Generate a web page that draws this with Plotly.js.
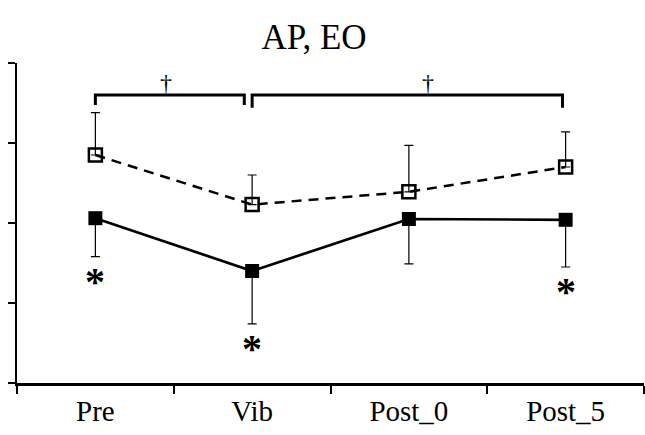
<!DOCTYPE html>
<html>
<head>
<meta charset="utf-8">
<script src="https://cdn.plot.ly/plotly-3.0.1.min.js"></script>
<style>
html,body{margin:0;padding:0;background:#fff;}
#chart{width:645px;height:435px;}
#chart text{font-family:'Liberation Serif','Times New Roman',serif !important;}
</style>
</head>
<body>
<div id="chart"></div>
<script>
// ---- data ----
var categories = ['Pre', 'Vib', 'Post_0', 'Post_5'];
var solidValues = [2.06, 1.40, 2.05, 2.04];      // filled squares, solid line
var solidErrMinus = [0.48, 0.66, 0.56, 0.59];     // one-sided (downward) SD
var dashedValues = [2.85, 2.23, 2.39, 2.70];     // open squares, dashed line
var dashedErrPlus = [0.53, 0.37, 0.58, 0.44];     // one-sided (upward) SD
var solidSignificant = [true, true, false, true]; // '*' marks
var bracketPairs = [[0, 1], [1, 3]];              // '†' comparisons (category indices)

var zeros = categories.map(function () { return 0; });
var FONT = 'Times New Roman';

var traces = [
  {
    x: categories, y: dashedValues, type: 'scatter', mode: 'lines+markers',
    line: {color: '#000', width: 2.5, dash: '10px,7px'},
    marker: {symbol: 'square-open', size: 13, color: '#000', line: {width: 2.5, color: '#000'}},
    error_y: {type: 'data', symmetric: false, array: dashedErrPlus, arrayminus: zeros,
              color: '#000', thickness: 1.2, width: 4.5},
    hoverinfo: 'skip'
  },
  {
    x: categories, y: solidValues, type: 'scatter', mode: 'lines+markers',
    line: {color: '#000', width: 2.7},
    marker: {symbol: 'square', size: 14, color: '#000'},
    error_y: {type: 'data', symmetric: false, array: zeros, arrayminus: solidErrMinus,
              color: '#000', thickness: 1.2, width: 4.5},
    hoverinfo: 'skip'
  }
];

var annotations = [];
solidSignificant.forEach(function (sig, i) {
  if (!sig) return;
  annotations.push({
    x: categories[i], y: solidValues[i] - solidErrMinus[i], xref: 'x', yref: 'y',
    text: '<b>*</b>', showarrow: false, yanchor: 'top', yshift: 0,
    font: {family: FONT, size: 40, color: '#000'}
  });
});

var shapes = [];
var bracketY = 3.6, leftDrop = 0.125, rightDrop = 0.16;
var bracketEnds = [[0, 0.95], [1.0, 2.98]];
var daggerX = [0.45, 2.12];
bracketPairs.forEach(function (p, k) {
  var x0 = bracketEnds[k][0], x1 = bracketEnds[k][1];
  var drop = (k === 0 ? leftDrop : rightDrop);
  shapes.push({
    type: 'path', xref: 'x', yref: 'y',
    path: 'M ' + x0 + ' ' + (bracketY - drop) +
          ' L ' + x0 + ' ' + bracketY + ' L ' + x1 + ' ' + bracketY +
          ' L ' + x1 + ' ' + (bracketY - drop),
    line: {color: '#000', width: 3}
  });
  annotations.push({
    x: daggerX[k], y: bracketY, xref: 'x', yref: 'y', text: '†', showarrow: false,
    yanchor: 'bottom', yshift: -3, font: {family: FONT, size: 24, color: '#000'}
  });
});

var layout = {
  width: 645, height: 435,
  margin: {l: 17, r: 1, t: 63, b: 52},
  paper_bgcolor: '#fff', plot_bgcolor: '#fff',
  showlegend: false,
  title: {text: 'AP, EO', font: {family: FONT, size: 35, color: '#000'},
          xref: 'container', x: 0.487, xanchor: 'center',
          yref: 'container', y: 1 - 37 / 435, yanchor: 'middle'},
  xaxis: {
    type: 'category', range: [-0.5, 3.5], tickson: 'boundaries',
    showline: true, linecolor: '#000', linewidth: 2.5,
    ticks: 'outside', ticklen: 8, tickwidth: 1.5, tickcolor: '#000',
    showgrid: false, zeroline: false, fixedrange: true,
    tickfont: {family: FONT, size: 29, color: '#000'}
  },
  yaxis: {
    range: [0, 4], dtick: 1, tick0: 0,
    showline: true, linecolor: '#000', linewidth: 2,
    ticks: 'outside', ticklen: 7, tickwidth: 1.5, tickcolor: '#000',
    showticklabels: false, showgrid: false, zeroline: false, fixedrange: true
  },
  shapes: shapes,
  annotations: annotations
};

Plotly.newPlot('chart', traces, layout, {displayModeBar: false});
</script>
</body>
</html>
